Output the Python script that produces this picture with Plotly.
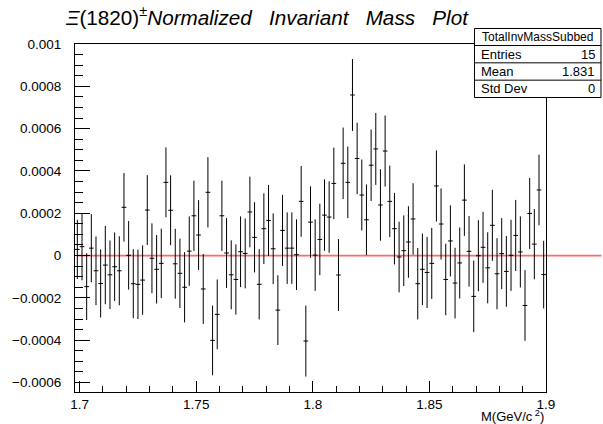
import numpy as np
import plotly.graph_objects as go

# Histogram binning (101 bins of width 0.002 GeV/c^2)
bin_lo, bin_hi, n_bins = 1.698, 1.900, 101

# Normalized, background-subtracted bin contents (units of 1e-3)
counts_e3 = [
    0.029, 0.042, -0.147, 0.035, -0.072, -0.132, -0.045, -0.091, -0.053, -0.072,
    0.228, 0.001, -0.133, -0.136, -0.116, 0.215, -0.013, -0.065, -0.037, 0.346,
    0.214, -0.039, -0.084, -0.150, 0.021, 0.188, 0.097, -0.158, 0.299, -0.401,
    -0.278, 0.188, 0.012, -0.091, -0.113, 0.018, 0.010, 0.206, 0.086, -0.136,
    0.127, 0.166, 0.032, -0.258, 0.119, 0.035, 0.035, 0.004, 0.256, -0.404,
    0.158, 0.002, 0.076, 0.191, 0.182, 0.341, -0.092, 0.436, 0.346, 0.759,
    0.459, 0.286, 0.169, 0.427, 0.504, 0.239, 0.494, 0.256, 0.127, -0.007,
    0.023, 0.064, 0.173, -0.133, -0.065, -0.080, -0.037, 0.329, 0.149, -0.113,
    0.069, -0.130, -0.035, 0.262, 0.020, -0.193, -0.001, 0.039, -0.058, 0.143,
    -0.086, 0.009, -0.075, 0.001, 0.095, 0.017, -0.236, 0.199, 0.054, 0.310,
    -0.090,
]

# Bin errors (units of 1e-3)
errors_e3 = [
    0.140, 0.159, 0.158, 0.161, 0.162, 0.161, 0.185, 0.162, 0.162, 0.163,
    0.162, 0.162, 0.163, 0.164, 0.164, 0.165, 0.165, 0.162, 0.164, 0.165,
    0.165, 0.165, 0.164, 0.166, 0.164, 0.166, 0.165, 0.165, 0.166, 0.165,
    0.165, 0.166, 0.165, 0.163, 0.166, 0.167, 0.165, 0.167, 0.166, 0.166,
    0.167, 0.168, 0.167, 0.165, 0.168, 0.169, 0.169, 0.167, 0.167, 0.168,
    0.169, 0.169, 0.169, 0.169, 0.169, 0.169, 0.170, 0.169, 0.169, 0.170,
    0.169, 0.168, 0.167, 0.169, 0.170, 0.169, 0.168, 0.169, 0.169, 0.167,
    0.167, 0.169, 0.169, 0.169, 0.169, 0.168, 0.168, 0.168, 0.168, 0.169,
    0.168, 0.167, 0.168, 0.169, 0.167, 0.169, 0.168, 0.168, 0.168, 0.168,
    0.168, 0.168, 0.167, 0.168, 0.168, 0.168, 0.167, 0.168, 0.166, 0.167,
    0.160,
]

x_tick_vals = [1.7, 1.75, 1.8, 1.85, 1.9]
x_tick_text = ["1.7", "1.75", "1.8", "1.85", "1.9"]
y_tick_vals = [-0.0006, -0.0004, -0.0002, 0, 0.0002, 0.0004, 0.0006, 0.0008, 0.001]
y_tick_text = ["\u22120.0006", "\u22120.0004", "\u22120.0002", "0",
               "0.0002", "0.0004", "0.0006", "0.0008", "0.001"]

stats_name = "TotalInvMassSubbed"
stats_rows = [("Entries", "15"), ("Mean", "1.831"), ("Std Dev", "0")]

y_lo, y_hi = -0.000645, 0.001

bw = (bin_hi - bin_lo) / n_bins
centers = bin_lo + (np.arange(n_bins) + 0.5) * bw
vals = np.array(counts_e3) * 1e-3
errs = np.array(errors_e3) * 1e-3

W, H = 603, 424
ML, MR, MT, MB = 62, 57, 44, 32
PW, PH = W - ML - MR, H - MT - MB


def px(xp):
    return (xp - ML) / PW


def py(yp):
    return (H - MB - yp) / PH


FONT = "Liberation Sans, Arial, Helvetica, sans-serif"

fig = go.Figure()
fig.add_trace(go.Scatter(
    x=centers, y=vals, mode="markers",
    marker=dict(size=2, color="black", opacity=0),
    error_x=dict(type="constant", value=bw / 2, width=0, thickness=1, color="black"),
    error_y=dict(type="data", array=errs, width=0, thickness=1, color="black"),
    hoverinfo="skip", showlegend=False,
))

shapes = []
# zero reference line, running from the first bin centre out to the page edge
zero_y = (0 - y_lo) / (y_hi - y_lo)
shapes.append(dict(type="line", xref="paper", yref="paper",
                   x0=(centers[0] - bin_lo) / (bin_hi - bin_lo), x1=px(W),
                   y0=zero_y, y1=zero_y,
                   line=dict(color="rgb(255,105,105)", width=1.8), layer="below"))

# statistics box
bx0, bx1, by0, by1 = 472.5, 602.5, 28.5, 97.5
shapes.append(dict(type="rect", xref="paper", yref="paper",
                   x0=px(bx0), x1=px(bx1), y0=py(by1), y1=py(by0),
                   fillcolor="white", line=dict(color="black", width=1), layer="above"))
row_h = (by1 - 45.5) / len(stats_rows)
for k in range(len(stats_rows)):
    yl = 45.5 + k * row_h
    shapes.append(dict(type="line", xref="paper", yref="paper",
                       x0=px(bx0), x1=px(bx1), y0=py(yl), y1=py(yl),
                       line=dict(color="black", width=1), layer="above"))

annotations = []
annotations.append(dict(
    xref="paper", yref="paper", x=px(259), y=py(16), xanchor="center", yanchor="middle",
    text="<i>\u039e</i>(1820)<sup>\u00b1</sup><i>Normalized\u00a0\u00a0\u00a0Invariant"
         "\u00a0\u00a0\u00a0Mass\u00a0\u00a0\u00a0Plot</i>",
    showarrow=False, font=dict(family=FONT, size=20.7, color="black")))
annotations.append(dict(
    xref="paper", yref="paper", x=px((bx0 + bx1) / 2), y=py(37), xanchor="center",
    yanchor="middle", text=stats_name, showarrow=False,
    font=dict(family=FONT, size=12, color="black")))
for k, (lab, val) in enumerate(stats_rows):
    yc = 45.5 + (k + 0.5) * row_h
    annotations.append(dict(xref="paper", yref="paper", x=px(bx0 + 5), y=py(yc),
                            xanchor="left", yanchor="middle", text=lab, showarrow=False,
                            font=dict(family=FONT, size=13, color="black")))
    annotations.append(dict(xref="paper", yref="paper", x=px(bx1 - 4), y=py(yc),
                            xanchor="right", yanchor="middle", text=val, showarrow=False,
                            font=dict(family=FONT, size=13, color="black")))
annotations.append(dict(
    xref="paper", yref="paper", x=1.0, y=py(416), xanchor="right", yanchor="middle",
    text="M(GeV/c<sup> 2</sup>)", showarrow=False,
    font=dict(family=FONT, size=13, color="black")))

fig.update_layout(
    width=W, height=H,
    margin=dict(l=ML, r=MR, t=MT, b=MB),
    paper_bgcolor="white", plot_bgcolor="white",
    font=dict(family=FONT, size=14, color="black"),
    shapes=shapes, annotations=annotations,
    xaxis=dict(
        range=[bin_lo, bin_hi], showgrid=False, zeroline=False,
        showline=True, mirror=True, linecolor="black", linewidth=1,
        ticks="inside", ticklen=11, tickwidth=1, tickcolor="black",
        tickmode="array", tickvals=x_tick_vals, ticktext=x_tick_text,
        tickfont=dict(family=FONT, size=13.5, color="black"),
        minor=dict(ticks="inside", ticklen=6, tickwidth=1, tickcolor="black",
                   tickmode="array", tickvals=list(np.round(np.arange(1.70, 1.9001, 0.01), 3))),
    ),
    yaxis=dict(
        range=[y_lo, y_hi], showgrid=False, zeroline=False,
        showline=True, mirror=True, linecolor="black", linewidth=1,
        ticks="inside", ticklen=15, tickwidth=1, tickcolor="black",
        tickmode="array", tickvals=y_tick_vals, ticktext=y_tick_text,
        tickfont=dict(family=FONT, size=13.5, color="black"),
        ticklabelstandoff=10,
        minor=dict(ticks="inside", ticklen=8, tickwidth=1, tickcolor="black",
                   tickmode="array",
                   tickvals=list(np.round(np.arange(-0.0006, 0.00100001, 0.00005), 6))),
    ),
)

fig.write_html("out.html")
